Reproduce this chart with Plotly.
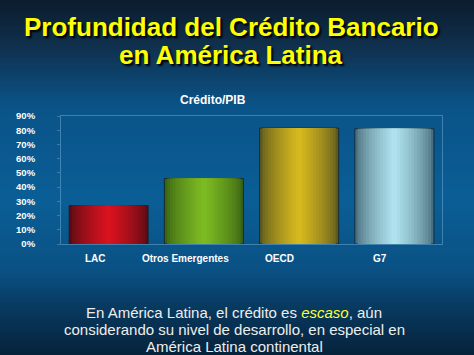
import plotly.graph_objects as go
import numpy as np

categories = ["LAC", "Otros Emergentes", "OECD", "G7"]
values = [0.27, 0.46, 0.815, 0.81]
y_ticks = [0, 0.1, 0.2, 0.3, 0.4, 0.5, 0.6, 0.7, 0.8, 0.9]
label_shift = [-13, -18, -20, -14]
title_lines = ["Profundidad del Crédito Bancario", "en América Latina"]
note_lines = ["En América Latina, el crédito es <i><span style='color:#ffff33'>escaso</span></i>, aún",
              "considerando su nivel de desarrollo, en especial en",
              "América Latina continental"]

edge_colors = ["#5a0c14", "#3a6414", "#5e5a1e", "#4a6f7c"]
center_colors = ["#d8121f", "#7cba22", "#d6b81e", "#aee2ee"]

W, H = 474, 355
L, R, T, B = 61, 32, 116, 111
pw, ph = W - L - R, H - T - B


def hex2rgb(h):
    h = h.lstrip("#")
    return np.array([int(h[i:i + 2], 16) for i in (0, 2, 4)], dtype=float)


def mix(a, b, t):
    c = hex2rgb(a) * (1 - t) + hex2rgb(b) * t
    return "rgb(%d,%d,%d)" % tuple(c.round())


def px_x(x):
    return (x - L) / pw


def px_y(y):
    return (H - B - y) / ph


fig = go.Figure()

bar_w = 0.83
N = 14
for k in range(N):
    t = k / (N - 1)
    w = bar_w * (1 - k / N)
    fig.add_trace(go.Bar(
        x=categories, y=values, width=w,
        marker=dict(color=[mix(e, c, t ** 0.7) for e, c in zip(edge_colors, center_colors)],
                    line=dict(width=1 if k == 0 else 0, color="rgba(20,30,40,0.8)")),
        showlegend=False, hoverinfo="skip",
    ))

# background gradient
stops = [(0, "#0c1c2d"), (50, "#0f3250"), (105, "#0a5388"), (200, "#0a5e96"),
         (270, "#0a5184"), (305, "#083b62"), (355, "#06223a")]
shapes = []
step = 3
for py in range(0, H, step):
    yc = py + step / 2
    for (y0, c0), (y1, c1) in zip(stops[:-1], stops[1:]):
        if y0 <= yc <= y1:
            col = mix(c0, c1, (yc - y0) / (y1 - y0))
            break
    shapes.append(dict(type="rect", xref="paper", yref="paper", layer="below",
                       x0=px_x(0), x1=px_x(W), y0=px_y(py + step), y1=px_y(py),
                       fillcolor=col, line=dict(width=0)))

annotations = []
for txt, yc in zip(title_lines, [27, 55]):
    annotations.append(dict(
        text=txt, xref="paper", yref="paper", x=px_x(231), y=px_y(yc),
        showarrow=False, xanchor="center", yanchor="middle",
        font=dict(family="Liberation Sans", size=26, color="#ffff00",
                  weight="bold", shadow="2px 2px 2px #000")))
annotations.append(dict(
    text="Crédito/PIB", xref="paper", yref="paper", x=px_x(213), y=px_y(100),
    showarrow=False, xanchor="center", yanchor="middle",
    font=dict(family="Liberation Sans", size=12, color="white", weight="bold")))
for txt, yc in zip(note_lines, [312, 329, 346]):
    annotations.append(dict(
        text=txt, xref="paper", yref="paper", x=px_x(234), y=px_y(yc),
        showarrow=False, xanchor="center", yanchor="middle",
        font=dict(family="Liberation Sans", size=15, color="#eeeeee")))
for cat, sh in zip(categories, label_shift):
    annotations.append(dict(text=cat, x=cat, xref="x", yref="paper", y=0, yshift=-14,
                            xshift=sh, showarrow=False, xanchor="center", yanchor="middle",
                            font=dict(family="Liberation Sans", size=10, color="white", weight="bold")))

fig.update_layout(
    width=W, height=H, margin=dict(l=L, r=R, t=T, b=B, pad=0),
    barmode="overlay", bargap=0.17,
    paper_bgcolor="#0a4a78", plot_bgcolor="rgba(0,0,0,0)",
    shapes=shapes, annotations=annotations, showlegend=False,
    xaxis=dict(showticklabels=False, showgrid=False, zeroline=False,
               showline=True, linecolor="rgba(170,210,240,0.35)", linewidth=1, mirror=True,
               range=[-0.5, 3.5]),
    yaxis=dict(range=[0, 0.9], tickvals=y_ticks, tickformat=".0%", showgrid=False,
               zeroline=False, showline=True, linecolor="rgba(170,210,240,0.35)", linewidth=1,
               mirror=True, ticks="outside", ticklen=3, tickcolor="rgba(170,210,240,0.3)",
               ticklabelstandoff=20,
               tickfont=dict(family="Liberation Sans", size=9.5, color="white", weight="bold")),
)

fig.write_html("out.html")
